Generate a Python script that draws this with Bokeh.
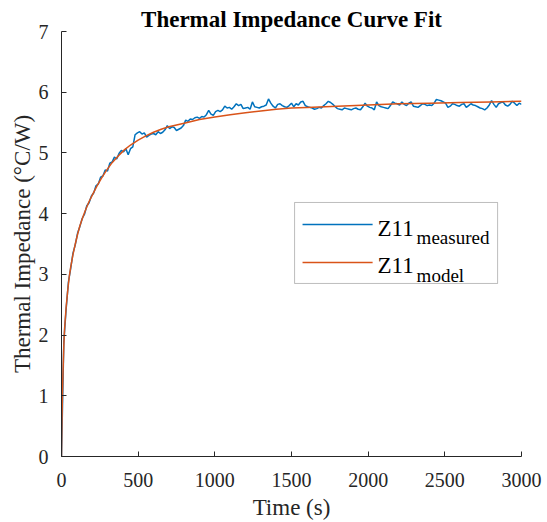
from bokeh.plotting import figure
from bokeh.models import Range1d, FixedTicker, Label, BoxAnnotation, Arrow
from bokeh.embed import file_html
from bokeh.resources import INLINE

# ---------------- data ----------------
title_text = "Thermal Impedance Curve Fit"
x_label = "Time (s)"
y_label = "Thermal Impedance (\u00b0C/W)"
legend_main = ["Z11", "Z11"]
legend_sub = ["measured", "model"]

x_ticks = [0, 500, 1000, 1500, 2000, 2500, 3000]
y_ticks = [0, 1, 2, 3, 4, 5, 6, 7]

# measured samples every 15 s, 0 .. 3000 s
t_meas = list(range(0, 3001, 15))
z_meas = [
    0.00, 1.88, 2.42, 2.87, 3.10, 3.35, 3.49, 3.68, 3.79, 3.92,
    3.99, 4.13, 4.18, 4.29, 4.34, 4.46, 4.49, 4.60, 4.62, 4.72,
    4.70, 4.83, 4.85, 4.93, 4.90, 4.99, 5.04, 5.02, 5.07, 4.97,
    5.07, 5.10, 5.30, 5.33, 5.35, 5.31, 5.33, 5.26, 5.29, 5.31,
    5.32, 5.30, 5.35, 5.32, 5.34, 5.38, 5.45, 5.40, 5.43, 5.42,
    5.37, 5.39, 5.41, 5.45, 5.54, 5.52, 5.56, 5.55, 5.58, 5.59,
    5.57, 5.60, 5.59, 5.63, 5.70, 5.64, 5.62, 5.68, 5.70, 5.68,
    5.71, 5.77, 5.74, 5.75, 5.72, 5.76, 5.81, 5.78, 5.80, 5.73,
    5.74, 5.75, 5.72, 5.84, 5.76, 5.75, 5.74, 5.76, 5.77, 5.79,
    5.89, 5.82, 5.77, 5.74, 5.80, 5.81, 5.78, 5.76, 5.75, 5.78,
    5.82, 5.76, 5.81, 5.79, 5.84, 5.85, 5.78, 5.76, 5.75, 5.74,
    5.72, 5.73, 5.75, 5.74, 5.78, 5.81, 5.85, 5.83, 5.80, 5.76,
    5.73, 5.72, 5.71, 5.74, 5.73, 5.72, 5.71, 5.73, 5.74, 5.72,
    5.71, 5.76, 5.82, 5.77, 5.75, 5.74, 5.71, 5.84, 5.78, 5.76,
    5.75, 5.74, 5.73, 5.78, 5.84, 5.82, 5.81, 5.79, 5.84, 5.80,
    5.78, 5.82, 5.84, 5.77, 5.76, 5.75, 5.78, 5.81, 5.80, 5.78,
    5.79, 5.78, 5.82, 5.88, 5.87, 5.86, 5.84, 5.82, 5.75, 5.77,
    5.81, 5.80, 5.78, 5.77, 5.80, 5.81, 5.75, 5.78, 5.81, 5.79,
    5.78, 5.76, 5.74, 5.73, 5.71, 5.74, 5.79, 5.86, 5.80, 5.75,
    5.81, 5.83, 5.84, 5.79, 5.77, 5.80, 5.85, 5.82, 5.78, 5.82,
    5.80,
]

t_model = [0, 3, 6, 10, 15, 20, 30, 40, 50, 60,
           75, 90, 105, 120, 140, 160, 180, 200, 230, 260,
           290, 330, 370, 410, 450, 500, 550, 600, 650, 700,
           800, 900, 1000, 1100, 1200, 1300, 1400, 1500, 1600, 1800,
           2000, 2200, 2400, 2600, 2800, 3000]
z_model = [0, 0.6, 1.0, 1.4, 1.82, 2.1, 2.45, 2.72, 2.95, 3.12,
           3.33, 3.5, 3.66, 3.8, 3.95, 4.08, 4.2, 4.3, 4.45, 4.58,
           4.7, 4.84, 4.95, 5.05, 5.13, 5.21, 5.28, 5.34, 5.39, 5.43,
           5.49, 5.55, 5.59, 5.63, 5.66, 5.69, 5.72, 5.74, 5.75, 5.77,
           5.79, 5.81, 5.82, 5.83, 5.84, 5.85]

# ---------------- style ----------------
BLUE = "#0072BD"
ORANGE = "#D95319"
AXC = "#262626"
FONT = "Liberation Serif"

p = figure(width=547, height=522, output_backend="svg", toolbar_location=None,
           x_range=Range1d(0, 3000), y_range=Range1d(0, 7),
           min_border_left=61, min_border_right=26, min_border_top=31, min_border_bottom=66)
p.outline_line_color = None
p.background_fill_color = "white"
p.border_fill_color = "white"
p.xgrid.visible = False
p.ygrid.visible = False

p.title.text = title_text
p.title.text_font = FONT
p.title.text_font_size = "23px"
p.title.text_font_style = "bold"
p.title.text_color = "black"
p.title.align = "center"
p.title.standoff = 0
p.title.offset = 0

p.line(t_meas, z_meas, line_color=BLUE, line_width=1.5)
p.line(t_model, z_model, line_color=ORANGE, line_width=1.5)

for ax in (p.xaxis[0], p.yaxis[0]):
    ax.axis_line_color = AXC
    ax.axis_line_width = 1
    ax.major_tick_line_color = AXC
    ax.major_tick_in = 5
    ax.major_tick_out = 0
    ax.minor_tick_line_color = None
    ax.major_label_text_font = FONT
    ax.major_label_text_font_size = "20px"
    ax.major_label_text_color = AXC
    ax.axis_label_text_font = FONT
    ax.axis_label_text_font_size = "23px"
    ax.axis_label_text_font_style = "normal"
    ax.axis_label_text_color = AXC

p.xaxis.ticker = FixedTicker(ticks=x_ticks)
p.yaxis.ticker = FixedTicker(ticks=y_ticks)
p.xaxis.axis_label = x_label
p.yaxis.axis_label = y_label
p.xaxis.major_label_standoff = 16
p.xaxis.axis_label_standoff = 5
p.yaxis.major_label_standoff = 13
p.yaxis.axis_label_standoff = 1

# legend drawn by hand (subscripts)
p.add_layout(BoxAnnotation(left=1520, right=2844, bottom=2.85, top=4.184,
                           fill_color="white", fill_alpha=1.0,
                           line_color=AXC, line_width=1))
line_y = [3.822, 3.196]
txt_y = [3.756, 3.147]
sub_y = [3.608, 2.982]
for col, ly, ty, sy, main, sub in zip([BLUE, ORANGE], line_y, txt_y, sub_y, legend_main, legend_sub):
    p.add_layout(Arrow(x_start=1572, y_start=ly, x_end=2029, y_end=ly, end=None, start=None,
                       line_color=col, line_width=1.5))
    p.add_layout(Label(x=2061, y=ty, text=main, text_font=FONT, text_font_size="23px",
                       text_color="black", text_baseline="alphabetic"))
    p.add_layout(Label(x=2316, y=sy, text=sub, text_font=FONT, text_font_size="19px",
                       text_color="black", text_baseline="alphabetic"))

open("out.html", "w").write(file_html(p, INLINE))
